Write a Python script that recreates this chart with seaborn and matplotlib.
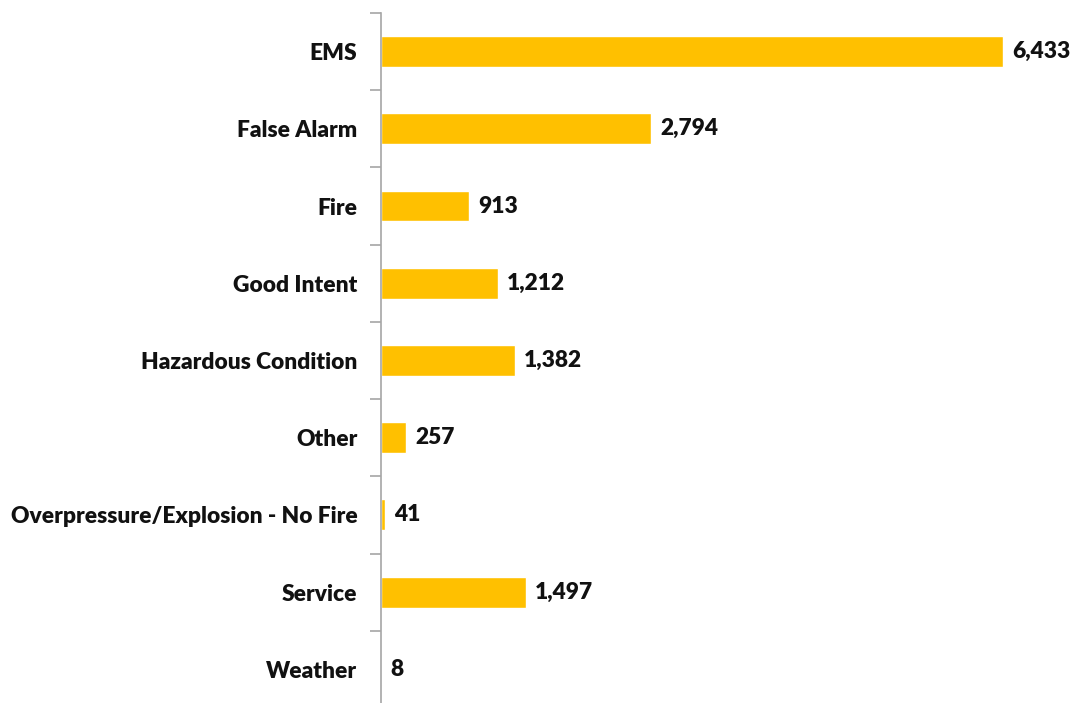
import pandas as pd
import seaborn as sns
import matplotlib.pyplot as plt

categories = ['EMS', 'False Alarm', 'Fire', 'Good Intent', 'Hazardous Condition',
              'Other', 'Overpressure/Explosion - No Fire', 'Service', 'Weather']
counts = [6433, 2794, 913, 1212, 1382, 257, 41, 1497, 8]

df = pd.DataFrame({'category': categories, 'count': counts})

sns.set_style('white')
plt.rcParams['font.family'] = ['Lato', 'DejaVu Sans']

fig = plt.figure(figsize=(10.72, 7.03), dpi=100)
ax = fig.add_axes([381 / 1072, -5 / 703, 1 - 381 / 1072, 695 / 703])

sns.barplot(data=df, y='category', x='count', color='#FFC000', width=0.4,
            saturation=1, ax=ax, orient='h')

ax.set_xlim(0, 7146)
ax.set_ylim(len(categories) - 0.5, -0.5)
ax.set_xlabel('')
ax.set_ylabel('')
ax.set_xticks([])

# ticks at category boundaries, labels centered
ax.set_yticks([i - 0.5 for i in range(len(categories) + 1)], minor=False)
ax.set_yticklabels([])
ax.tick_params(axis='y', which='major', length=8, width=1.2, color='#a6a6a6', left=True)
ax.set_yticks(range(len(categories)), minor=True)
ax.set_yticklabels(categories, minor=True, fontsize=16.4, fontweight='heavy', color='#111111')
ax.tick_params(axis='y', which='minor', length=0, pad=17)

for s in ['top', 'right', 'bottom']:
    ax.spines[s].set_visible(False)
ax.spines['left'].set_color('#a6a6a6')
ax.spines['left'].set_linewidth(1.2)

for i, v in enumerate(counts):
    ax.annotate(f'{v:,}', xy=(v, i), xytext=(6.5, 0), textcoords='offset points',
                va='center', ha='left', fontsize=16.4, fontweight='heavy', color='#111111')

fig.savefig('out.png', dpi=100)
